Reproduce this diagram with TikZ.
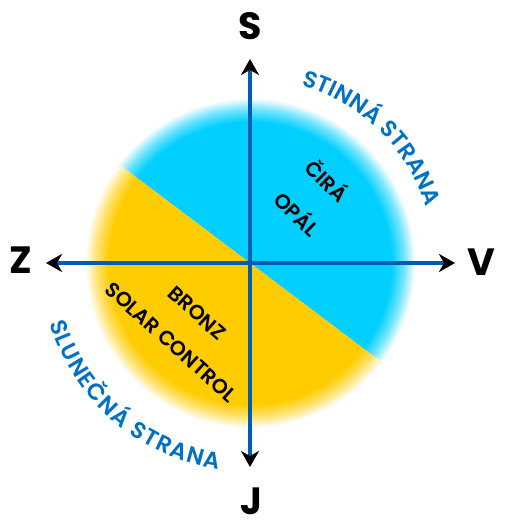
\documentclass[tikz,border=0pt]{standalone}
\usepackage{fontspec}
\setmainfont{Poppins}
\newfontfamily\popmed{Poppins Medium}
\newfontfamily\popsemi{Poppins SemiBold}
\usetikzlibrary{arrows.meta,decorations.text}
\definecolor{cy}{RGB}{0,207,255}
\definecolor{yl}{RGB}{255,204,0}
\definecolor{axblue}{RGB}{0,92,180}
\definecolor{txtblue}{RGB}{0,114,198}
\pgfdeclareradialshading{cyfade}{\pgfpoint{0bp}{0bp}}{color(0bp)=(cy); color(21.4bp)=(cy); color(23.3bp)=(cy!55!white); color(25bp)=(white); color(50bp)=(white)}
\pgfdeclareradialshading{ylfade}{\pgfpoint{0bp}{0bp}}{color(0bp)=(yl); color(21.4bp)=(yl); color(23.3bp)=(yl!55!white); color(25bp)=(white); color(50bp)=(white)}
\tikzset{
  axis/.style={line width=4pt, draw=axblue, -{Stealth[length=16pt,width=18pt,inset=5pt,color=black]}},
  dirlabel/.style={font=\bfseries\fontsize{38}{38}\selectfont, inner sep=0pt},
  glass/.style={font=\popsemi\fontsize{20.5}{20.5}\selectfont, inner sep=0pt},
  side/.style={decorate, decoration={text along path, text align=fit to path, text color=txtblue}}
}
\begin{document}
\begin{tikzpicture}[x=1pt,y=1pt]
\useasboundingbox[fill=white] (-250,-266) rectangle (255,263);
% disc halves
\begin{scope}
  \clip (143:260) -- (-37:260) -- (53:260) -- cycle;
  \shade[shading=cyfade] (0,0) circle (165);
\end{scope}
\begin{scope}
  \clip (143:260) -- (-37:260) -- (233:260) -- cycle;
  \shade[shading=ylfade] (0,0) circle (165);
\end{scope}
% axes
\coordinate (O) at (0,0);
\coordinate (N) at (0,204);
\coordinate (Sd) at (0,-204);
\coordinate (W) at (-204,0);
\coordinate (E) at (205,0);
\draw[axis] (O) -- (N);
\draw[axis] (O) -- (Sd);
\draw[axis] (O) -- (W);
\draw[axis] (O) -- (E);
% direction labels
\node[dirlabel] (lS) at (0,237) {S};
\node[dirlabel] (lZ) at (-229.5,3) {Z};
\node[dirlabel] (lV) at (231,1) {V};
\node[dirlabel] (lJ) at (1,-238) {J};
% glass labels
\node[glass, rotate=-45] (cira) at (78,83) {ČIRÁ};
\node[glass, rotate=-45] (opal) at (48,50) {OPÁL};
\node[glass, rotate=-42] (bronz) at (-53,-50) {BRONZ};
\node[glass, rotate=-42] (solar) at (-79,-79) {SOLAR CONTROL};
% side texts
\path[side, decoration={text={|\popsemi\fontsize{23}{23}\selectfont|STINNÁ STRANA}}]
  (74:185) arc[start angle=74, end angle=17.5, radius=185];
\path[side, decoration={text={|\popsemi\fontsize{23}{23}\selectfont|SLUNEČNÁ STRANA}}]
  (196.8:209) arc[start angle=196.8, end angle=261.5, radius=209];
\end{tikzpicture}
\end{document}
